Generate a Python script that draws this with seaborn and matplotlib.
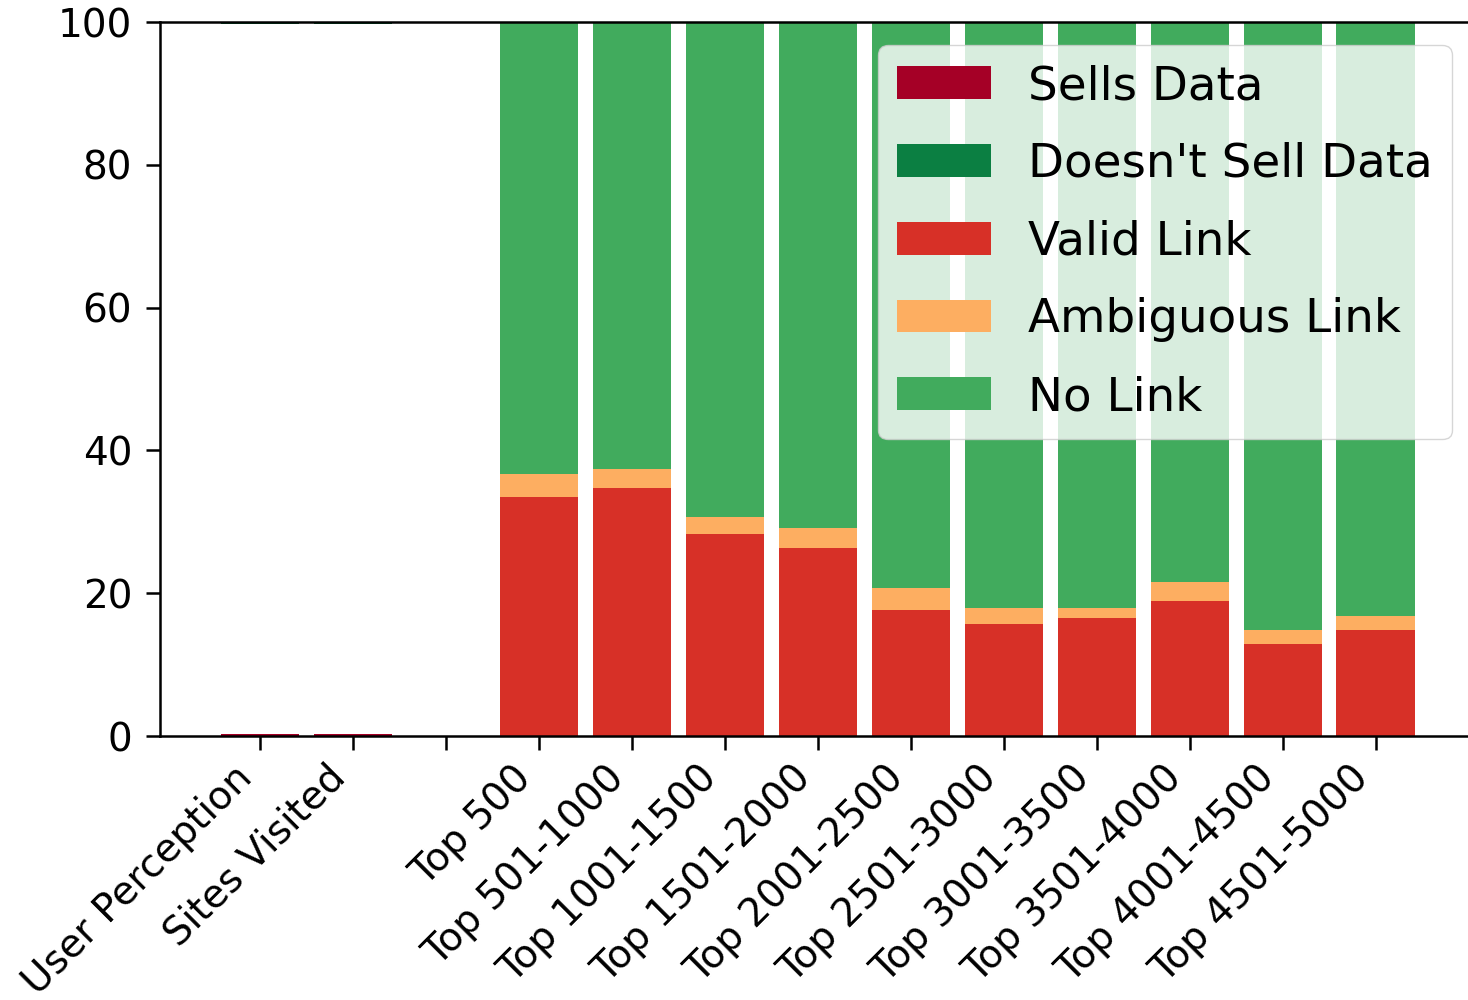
import numpy as np
import seaborn as sns
import matplotlib.pyplot as plt

categories = ['User Perception', 'Sites Visited', '',
              'Top 500', 'Top 501-1000', 'Top 1001-1500', 'Top 1501-2000',
              'Top 2001-2500', 'Top 2501-3000', 'Top 3001-3500', 'Top 3501-4000',
              'Top 4001-4500', 'Top 4501-5000']

# percent of sites
sells_data = [0.3, 0.3, 0, 0, 0, 0, 0, 0, 0, 0, 0, 0, 0]
doesnt_sell = [0.3, 0.3, 0, 0, 0, 0, 0, 0, 0, 0, 0, 0, 0]
valid_link = [0, 0, 0, 33.5, 34.7, 28.3, 26.3, 17.6, 15.7, 16.5, 18.9, 12.9, 14.8]
ambiguous_link = [0, 0, 0, 3.2, 2.7, 2.4, 2.8, 3.1, 2.2, 1.4, 2.7, 1.9, 2.0]
no_link = [0, 0, 0, 63.3, 62.6, 69.3, 70.9, 79.3, 82.1, 82.1, 78.4, 85.2, 83.2]

valid_link = np.array(valid_link)
ambiguous_link = np.array(ambiguous_link)
no_link = np.array(no_link)
doesnt_sell = np.array(doesnt_sell)

fig = plt.figure(figsize=(14.68, 10), dpi=100)
ax = fig.add_axes([160/1468, 1-736/1000, 1315/1468, 714/1000])

w = 0.84
common = dict(x=categories, order=categories, width=w, saturation=1,
              errorbar=None, ax=ax, linewidth=0)
sns.barplot(y=sells_data, color='#a50026', label='Sells Data', **common)
sns.barplot(y=doesnt_sell, bottom=100 - doesnt_sell, color='#0b7f42',
            label="Doesn't Sell Data", **common)
sns.barplot(y=valid_link, color='#d73027', label='Valid Link', **common)
sns.barplot(y=ambiguous_link, bottom=valid_link, color='#fdae61',
            label='Ambiguous Link', **common)
sns.barplot(y=no_link, bottom=valid_link + ambiguous_link, color='#41ab5d',
            label='No Link', **common)

ax.set_ylim(0, 100)
ax.set_xlim(-1.075, 13.07)
ax.set_yticks([0, 20, 40, 60, 80, 100])
ax.set_xticks(range(len(categories)))
ax.set_xticklabels(categories, rotation=45, ha='right')
ax.tick_params(labelsize=28, length=10, width=1.8)
ax.tick_params(axis='y', pad=10)
ax.tick_params(axis='x', pad=6)
for s in ax.spines.values():
    s.set_linewidth(1.8)
ax.set_xlabel('')
ax.set_ylabel('')

ax.legend(loc='upper right', fontsize=33.7, labelspacing=0.7)

fig.savefig('out.png', dpi=100)
